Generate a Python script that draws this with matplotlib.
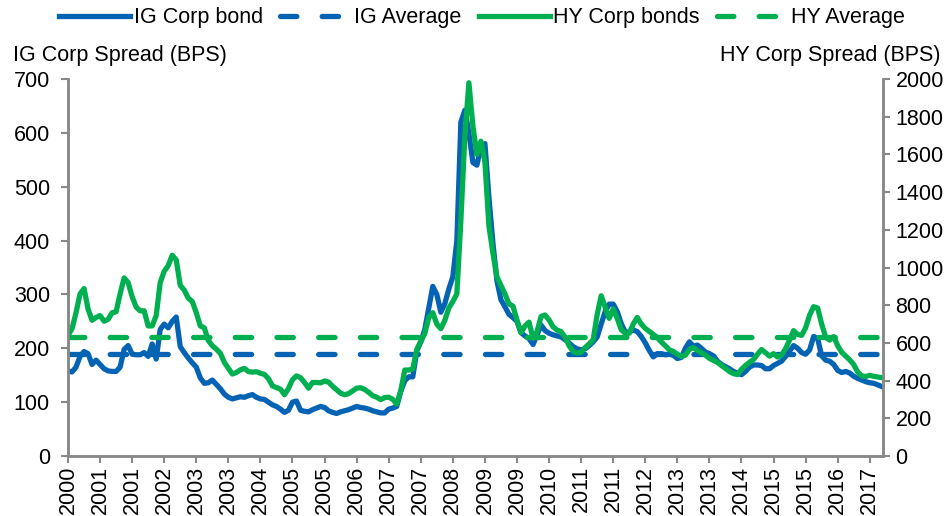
import numpy as np
import matplotlib.pyplot as plt

plt.rcParams['font.family'] = ['Liberation Sans', 'DejaVu Sans']
plt.rcParams['font.size'] = 15.5

# monthly spreads (bps)
ig_spread = [
    158, 156, 165, 185, 194, 190, 170, 178, 170, 162, 158, 157,
    157, 165, 198, 205, 189, 188, 188, 192, 185, 208, 180, 235,
    245, 238, 250, 258, 203, 192, 182, 173, 165, 145, 135, 136,
    141, 133, 125, 115, 109, 106, 108, 110, 109, 112, 114, 109,
    106, 105, 100, 95, 92, 87, 81, 85, 100, 102, 85, 83,
    82, 86, 89, 92, 90, 84, 81, 79, 82, 84, 86, 89,
    92, 90, 89, 87, 84, 82, 80, 80, 87, 89, 92, 120,
    140, 147, 147, 195, 212, 235, 275, 315, 300, 267, 283, 310,
    333, 400, 620, 642, 600, 545, 540, 575, 580, 480, 395, 325,
    290, 277, 263, 257, 250, 229, 223, 218, 207, 225, 243, 233,
    228, 225, 223, 221, 216, 210, 203, 199, 197, 199, 205, 212,
    221, 245, 268, 282, 282, 268, 246, 230, 230, 234, 231, 222,
    210, 196, 184, 190, 190, 188, 189, 187, 181, 183, 200, 212,
    204, 206, 200, 193, 190, 186, 176, 170, 166, 162, 157, 154,
    151, 157, 165, 169, 169, 168, 162, 162, 168, 172, 176, 185,
    195, 205, 200, 192, 189, 197, 222, 218, 186, 178, 176, 170,
    159, 155, 157, 154, 148, 144, 141, 138, 136, 135, 132, 129,
]
hy_spread = [
    640, 675, 760, 860, 888, 780, 720, 735, 745, 715, 725, 760,
    765, 860, 945, 920, 845, 790, 770, 770, 690, 690, 745, 920,
    980, 1010, 1065, 1040, 905, 880, 837, 820, 760, 690, 680, 613,
    585, 567, 545, 497, 465, 435, 443, 457, 465, 448, 445, 447,
    439, 433, 410, 372, 363, 355, 325, 358, 405, 425, 415, 390,
    360, 390, 390, 388, 398, 392, 370, 352, 333, 325, 331, 345,
    360, 362, 353, 338, 320, 312, 299, 310, 312, 301, 275, 345,
    456, 456, 462, 565, 608, 650, 735, 760, 700, 675, 720, 785,
    820, 860, 1250, 1700, 1980, 1750, 1600, 1670, 1560, 1220, 1075, 950,
    905, 860, 807, 795, 720, 655, 690, 710, 625, 660, 740, 748,
    722, 685, 668, 660, 630, 585, 555, 546, 550, 575, 595, 617,
    750, 850, 790, 730, 780, 730, 670, 651, 651, 700, 735, 700,
    677, 661, 645, 628, 605, 585, 563, 555, 540, 528, 535, 565,
    575, 560, 548, 535, 518, 507, 497, 480, 465, 448, 437, 432,
    460, 480, 497, 512, 540, 565, 548, 530, 543, 525, 535, 570,
    615, 665, 645, 640, 680, 748, 792, 785, 700, 630, 615, 633,
    585, 550, 530, 510, 485, 445, 425, 422, 428, 423, 419, 416,
]
ig_avg = 190
hy_avg = 633

tick_labels = ['2000', '2001', '2001', '2002', '2003', '2003', '2004', '2005', '2005',
               '2006', '2007', '2007', '2008', '2009', '2009', '2010', '2011', '2011',
               '2012', '2013', '2013', '2014', '2015', '2015', '2016', '2017']

blue = '#0563B4'
green = '#00B050'
grey = '#888888'

months = np.arange(len(ig_spread))
dash = (3.1, 4.8)

fig = plt.figure(figsize=(9.51, 5.16), dpi=100)
ax = fig.add_axes([68 / 951, 1 - 456 / 516, (883 - 68) / 951, (456 - 79) / 516])
ax2 = ax.twinx()

l1, = ax.plot(months, ig_spread, color=blue, lw=3.8, solid_joinstyle='round')
l2, = ax.plot(months, [ig_avg] * len(months), color=blue, lw=3.8,
              dashes=dash, dash_capstyle='round')
l3, = ax2.plot(months, hy_spread, color=green, lw=3.8, solid_joinstyle='round')
l4, = ax2.plot(months, [hy_avg] * len(months), color=green, lw=3.8,
               dashes=dash, dash_capstyle='round')

ax.set_xlim(0, len(months) - 0.7)
ax.set_ylim(0, 700)
ax2.set_ylim(0, 2000)
ax.set_yticks(range(0, 701, 100))
ax2.set_yticks(range(0, 2001, 200))
ax.set_xticks(np.arange(0, 8 * len(tick_labels), 8))
ax.set_xticklabels(tick_labels, rotation=90)

for a in (ax, ax2):
    a.spines['top'].set_visible(False)
    for s in ('left', 'right', 'bottom'):
        a.spines[s].set_color(grey)
        a.spines[s].set_linewidth(1.8)
    a.tick_params(colors=grey, labelcolor='black', width=1.5, length=5)
ax.tick_params(axis='y', pad=8)
ax.tick_params(axis='x', pad=2)
ax2.tick_params(axis='y', pad=4)

fig.text(13 / 951, 1 - 55 / 516, 'IG Corp Spread (BPS)', ha='left', va='center')
fig.text(940 / 951, 1 - 55 / 516, 'HY Corp Spread (BPS)', ha='right', va='center')

fig.legend([l1, l2, l3, l4], ['IG Corp bond', 'IG Average', 'HY Corp bonds', 'HY Average'],
           loc='center', bbox_to_anchor=(482 / 951, 1 - 18 / 516), ncol=4, frameon=False,
           handlelength=3.3, handletextpad=0.15, columnspacing=0.8, borderaxespad=0)

fig.savefig('out.png', dpi=100)
